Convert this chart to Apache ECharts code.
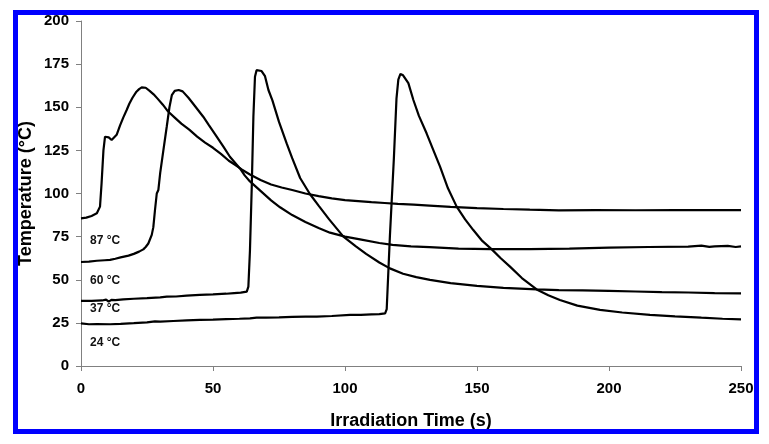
<!DOCTYPE html>
<html>
<head>
<meta charset="utf-8">
<script src="https://cdn.jsdelivr.net/npm/echarts@6/dist/echarts.min.js"></script>
<style>
html,body{margin:0;padding:0;background:#fff;}
#chart{width:769px;height:444px;}
</style>
</head>
<body>
<div id="chart"></div>
<script>
// ---- Data ----
var xTicks = [0, 50, 100, 150, 200, 250];
var yTicks = [0, 25, 50, 75, 100, 125, 150, 175, 200];

var time87 = [0,2,4,6,7.2,7.8,8.5,9.1,9.6,10.5,11.6,12.3,13.5,14.8,16,17.3,18.3,19.5,21,22,23,24.5,26,27.5,29,31,33,35.5,38,41,44,47,50,53,56,58.5,61,64,68,72,76,80,85,90,95,100,105,110,115,120,126,132,140,150,160,170,181,195,210,225,240,250];
var temp87 = [85.6,86,87,88.5,92.4,106,125,132.9,133.5,132.5,131,131.5,134,139.5,144,148.4,152,155.5,159,160.5,161.5,161.3,159.5,157.5,155,151.5,147.5,144,140.5,137,133,129.5,126.5,123,119,116.5,113.8,111,107.8,105.2,103.5,102,100,98.5,97.2,96.2,95.6,95,94.5,94,93.5,93,92.3,91.5,91,90.6,90.2,90.4,90.3,90.4,90.4,90.4];

var time60 = [0,3,6,9,11,13,15,18,20,22,23.6,24.5,25.5,26.8,27.4,28,28.7,29.3,30,31.2,32.5,33.5,34.4,35.5,37,38.5,40.7,43,46.3,48.5,51.4,54,56.4,60.2,62,64,68,72,75.4,80,85,90,94.3,100,105.7,113,118,125,132,143,155,170,185,200,215,230,235,238,240,245,248,250];
var temp60 = [60.3,60.5,61,61.3,61.5,62.2,63,64,65,66.3,67.6,69,71,76,80.5,90,100,102,112,125,139,150,157,159.5,160,159.2,155.5,151,144.5,139.5,133,127,121.3,114.5,110.5,107,101.5,96,92,87.5,83.5,80,77.3,75,73.4,71.3,70.2,69.4,68.9,68,67.7,67.8,68,68.6,69,69.2,69.8,69.1,69.3,69.6,69,69.3];

var time37 = [0,4,8,9.5,10.5,11.5,13,16,20,25,30,32.5,36,40,45,50,55,58,60.5,62.8,63.4,64,64.7,65.3,65.9,66.5,67.2,68.4,69.7,71,72.5,75,77.9,80,83,86.7,90,94,99.4,104,108,113,117,122,127,132.2,140,150,160,172.6,181,190,200,210,220,230,240,250];
var temp37 = [37.7,37.8,38,38.5,37.3,38.3,38.2,38.6,39,39.3,39.8,40.2,40.3,40.8,41.2,41.5,41.9,42.3,42.5,43.1,46,67,105,144.5,167.7,171.5,172.6,171,168,160,154,141.5,129,120.5,109,99.7,93,85,75,69.5,65,60,56.6,53.5,51.5,49.9,48,46.5,45.3,44.4,44,43.8,43.5,43.2,42.8,42.6,42.3,42.1];

var time24 = [0,3,6,11,15,20,25,28,30,35,40,45,50,55,60,64,66.5,70,75,80,85,89.3,95,101.9,106,110,113,115.2,115.8,117,118.5,119.5,120.2,121,122,124,125.9,128,130.9,133.5,136,139,142.3,145.5,148.6,152,155.6,159,162.5,167,172.6,177,181.4,188,196.6,205,215.5,225,235,243,250];
var temp24 = [24.7,24.2,24.3,24.2,24.4,24.8,25.3,25.9,25.7,26.1,26.5,26.7,26.9,27.2,27.4,27.6,28,28,28.2,28.5,28.6,28.6,29,29.6,29.6,29.9,30.1,30.5,33,75,120,155,166,169.3,168.5,164,154.2,145,134.9,125,115.6,103,92.4,85,78.8,72.5,67.6,62.5,57.6,51,44.4,41,38.3,35,32.5,31,29.6,28.8,28,27.4,27];

var labelTexts = ['87 \u00B0C', '60 \u00B0C', '37 \u00B0C', '24 \u00B0C'];
var labelAnchorTime = [3.4, 3.4, 3.4, 3.4];
var labelAnchorTemp = [72.6, 49.3, 33.4, 13.7];

// ---- Build ----
function zip(a, b) { return a.map(function (v, i) { return [v, b[i]]; }); }
var FONT = '"Liberation Sans", Arial, sans-serif';

var chart = echarts.init(document.getElementById('chart'), null, {renderer: 'canvas'});

function lineSeries(name, t, v) {
  return {
    name: name, type: 'line', data: zip(t, v),
    symbol: 'none', showSymbol: false, smooth: false,
    lineStyle: {color: '#000', width: 2.2},
    silent: true, animation: false
  };
}

var axisCommon = {
  type: 'value',
  axisLine: {show: true, lineStyle: {color: '#808080', width: 1}},
  axisTick: {show: true, inside: false, length: 5, lineStyle: {color: '#808080', width: 1}},
  splitLine: {show: false},
  nameLocation: 'middle',
  nameMoveOverlap: false,
  nameTextStyle: {fontFamily: FONT, fontSize: 18, fontWeight: 'bold', color: '#000'}
};

chart.setOption({
  backgroundColor: '#fff',
  animation: false,
  grid: {left: 81, right: 28, top: 21, bottom: 78, containLabel: false},
  xAxis: Object.assign({}, axisCommon, {
    min: xTicks[0], max: xTicks[xTicks.length - 1], interval: xTicks[1] - xTicks[0],
    name: 'Irradiation Time (s)', nameGap: 46,
    axisLabel: {fontFamily: FONT, fontSize: 15, fontWeight: 'bold', color: '#000', margin: 15}
  }),
  yAxis: Object.assign({}, axisCommon, {
    min: yTicks[0], max: yTicks[yTicks.length - 1], interval: yTicks[1] - yTicks[0],
    name: 'Temperature (\u00B0C)', nameGap: 46, nameRotate: 90,
    axisLabel: {fontFamily: FONT, fontSize: 15, fontWeight: 'bold', color: '#000', margin: 12}
  }),
  series: [
    lineSeries('87', time87, temp87),
    lineSeries('60', time60, temp60),
    lineSeries('37', time37, temp37),
    lineSeries('24', time24, temp24)
  ]
});

var graphics = [{
  type: 'rect', silent: true, z: 100,
  shape: {x: 15.5, y: 12.5, width: 741, height: 419},
  style: {fill: null, stroke: '#0000ff', lineWidth: 5}
}];
labelTexts.forEach(function (txt, i) {
  var p = chart.convertToPixel({gridIndex: 0}, [labelAnchorTime[i], labelAnchorTemp[i]]);
  graphics.push({
    type: 'text', silent: true, z: 50,
    style: {text: txt, x: p[0], y: p[1], font: 'bold 12px ' + FONT, fill: '#111',
            textAlign: 'left', textVerticalAlign: 'middle'}
  });
});
chart.setOption({graphic: graphics});
</script>
</body>
</html>
